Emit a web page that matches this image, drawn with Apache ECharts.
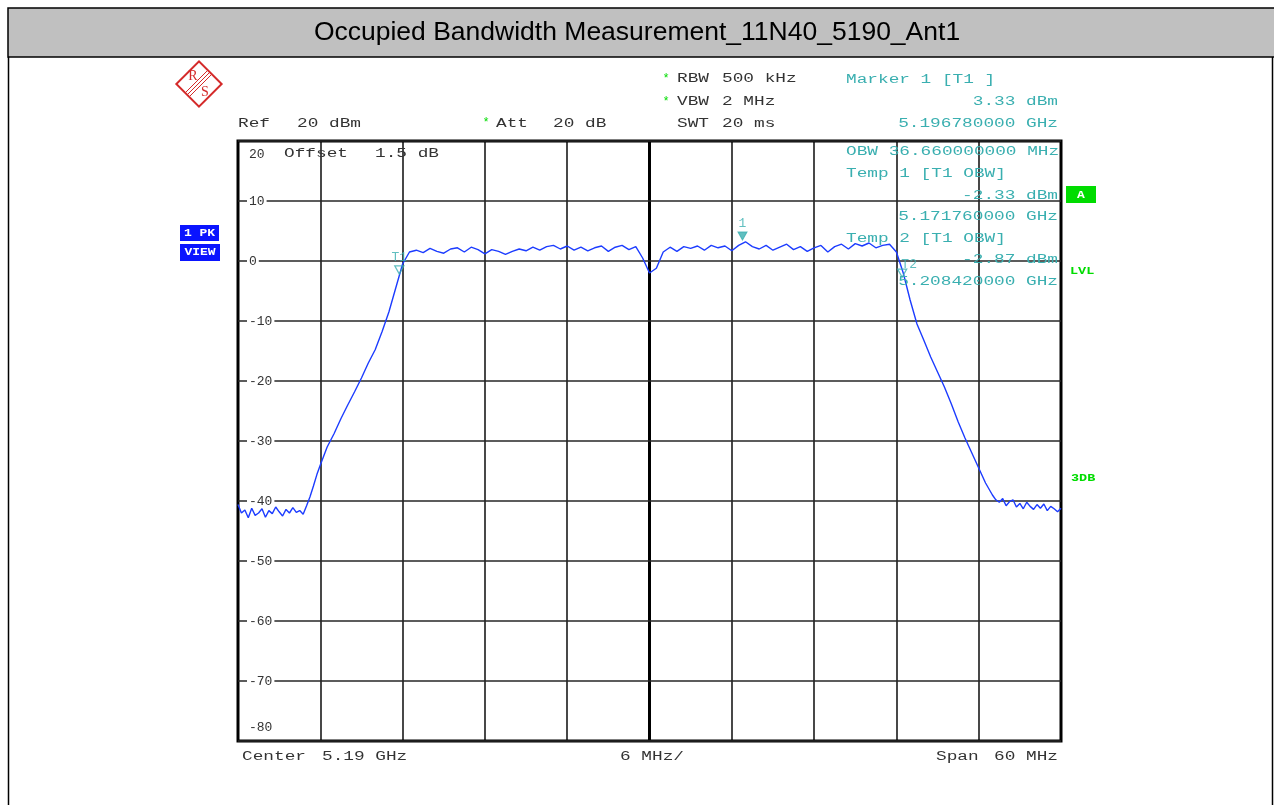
<!DOCTYPE html>
<html>
<head>
<meta charset="utf-8">
<script src="https://cdn.jsdelivr.net/npm/echarts@6/dist/echarts.min.js"></script>
<style>
html,body{margin:0;padding:0;background:#fff;}
#chart{width:1274px;height:805px;}
</style>
</head>
<body>
<div id="chart"></div>
<script>
// ---- data ----
const titleText = 'Occupied Bandwidth Measurement_11N40_5190_Ant1';
const freqMHz = [
  5160.0,5160.25,5160.5,5160.75,5161.0,5161.25,5161.5,5161.75,5162.0,5162.25,
  5162.5,5162.75,5163.0,5163.25,5163.5,5163.75,5164.0,5164.25,5164.5,5164.75,
  5165.0,5165.25,5165.5,5165.75,5166.0,5166.5,5167.0,5167.5,5168.0,5168.5,
  5169.0,5169.5,5170.0,5170.5,5171.0,5171.5,5172.0,5172.5,5173.0,5173.5,
  5174.0,5174.5,5175.0,5175.5,5176.0,5176.5,5177.0,5177.5,5178.0,5178.5,
  5179.0,5179.5,5180.0,5180.5,5181.0,5181.5,5182.0,5182.5,5183.0,5183.5,
  5184.0,5184.5,5185.0,5185.5,5186.0,5186.5,5187.0,5187.5,5188.0,5188.5,
  5189.0,5189.5,5190.0,5190.5,5191.0,5191.5,5192.0,5192.5,5193.0,5193.5,
  5194.0,5194.5,5195.0,5195.5,5196.0,5196.5,5197.0,5197.5,5198.0,5198.5,
  5199.0,5199.5,5200.0,5200.5,5201.0,5201.5,5202.0,5202.5,5203.0,5203.5,
  5204.0,5204.5,5205.0,5205.5,5206.0,5206.5,5207.0,5207.5,5208.0,5208.5,
  5209.0,5209.5,5210.0,5210.5,5211.0,5211.5,5212.0,5212.5,5213.0,5213.5,
  5214.0,5214.5,5215.0,5215.25,5215.5,5215.75,5216.0,5216.25,5216.5,5216.75,
  5217.0,5217.25,5217.5,5217.75,5218.0,5218.25,5218.5,5218.75,5219.0,5219.25,
  5219.5,5219.75,5220.0
];
const levelDbm = [
  -40.6,-42.0,-41.5,-42.8,-41.2,-42.4,-42.0,-41.3,-42.7,-41.6,
  -42.1,-41.0,-41.8,-42.5,-41.4,-42.0,-41.1,-41.9,-41.6,-42.2,
  -40.8,-39.3,-37.5,-35.6,-34.0,-31.0,-28.8,-26.3,-24.0,-21.8,
  -19.5,-17.0,-14.8,-11.8,-8.5,-4.5,-0.5,1.5,1.8,1.4,
  2.1,1.6,1.3,2.0,2.2,1.5,2.3,1.9,1.2,1.9,
  1.6,1.1,1.6,2.0,1.7,2.3,1.8,2.4,2.6,2.0,
  2.5,1.8,2.3,1.7,2.2,2.5,1.6,2.3,2.6,1.9,
  2.4,0.5,-2.0,-1.2,1.5,2.3,1.6,2.4,2.1,2.5,
  1.8,2.6,2.2,2.5,1.7,2.6,3.2,2.4,2.0,2.6,
  1.8,2.3,2.8,1.9,2.4,1.6,2.2,2.6,1.5,2.4,
  2.8,2.0,2.9,2.5,3.0,2.2,2.6,2.8,1.5,-2.0,
  -6.5,-10.5,-13.2,-16.0,-18.5,-21.0,-23.8,-26.8,-29.5,-32.0,
  -34.5,-37.0,-39.0,-39.8,-40.2,-39.6,-40.8,-40.1,-39.8,-41.0,
  -40.4,-41.3,-40.2,-40.9,-41.4,-40.6,-41.2,-40.5,-41.6,-40.9,
  -41.3,-41.8,-41.2
];
const markerNames = ['T1', '1', 'T2'];
const markerFreqMHz = [5171.76, 5196.78, 5208.42];
const markerLevelDbm = [-2.33, 3.33, -2.87];
const markerFilled = [false, true, false];
const xMinMHz = 5160, xMaxMHz = 5220, xStepMHz = 6, centerMHz = 5190;
const yMin = -80, yMax = 20, yStep = 10;

// ---- styles ----
const TEAL = '#3aafb0';
const GREEN = '#00dc00';
const DARK = '#333333';
const MONO = '"Liberation Mono", "Courier New", monospace';
const SX = 1.48;

function txt(x, y, s, color, align, extra) {
  return Object.assign({
    type: 'text', x: x, y: y, scaleX: SX, z: 50,
    style: { text: s, fill: color, font: '12px ' + MONO, textAlign: align || 'left', textVerticalAlign: 'middle' }
  }, extra || {});
}
function boxTxt(x, y, s, color, align, sx) {
  return {
    type: 'text', x: x, y: y, scaleX: sx, z: 51,
    style: { text: s, fill: color, font: 'bold 10px ' + MONO, textAlign: align, textVerticalAlign: 'middle' }
  };
}

const chart = echarts.init(document.getElementById('chart'), null, { renderer: 'canvas' });

const tracePts = freqMHz.map((f, i) => [f, levelDbm[i]]);
const markerPts = markerFreqMHz.map((f, i) => ({
  value: [f, markerLevelDbm[i]],
  name: markerNames[i],
  itemStyle: markerFilled[i] ? { color: TEAL, borderColor: TEAL } : { color: 'rgba(255,255,255,0)', borderColor: TEAL, borderWidth: 1.3 },
  label: { offset: markerNames[i] === 'T2' ? [7, 3] : [0, 0] }
}));

const graphics = [
  // title bar and page frame
  { type: 'rect', z: 0, shape: { x: 8, y: 8, width: 1275, height: 49 }, style: { fill: '#c0c0c0', stroke: '#000', lineWidth: 1.5 } },
  { type: 'line', z: 0, shape: { x1: 8.5, y1: 57, x2: 8.5, y2: 805 }, style: { stroke: '#000', lineWidth: 1.5 } },
  { type: 'line', z: 0, shape: { x1: 1272.5, y1: 57, x2: 1272.5, y2: 805 }, style: { stroke: '#000', lineWidth: 1.5 } },
  // R&S logo
  { type: 'group', x: 199, y: 84, z: 50, children: [
    { type: 'rect', shape: { x: -16, y: -16, width: 32, height: 32 }, rotation: Math.PI / 4, style: { fill: 'none', stroke: '#d42a2a', lineWidth: 2 } },
    { type: 'line', shape: { x1: -13, y1: 8, x2: 8, y2: -13 }, style: { stroke: '#d42a2a', lineWidth: 1 } },
    { type: 'line', shape: { x1: -11, y1: 10, x2: 10, y2: -11 }, style: { stroke: '#d42a2a', lineWidth: 1 } },
    { type: 'line', shape: { x1: -9, y1: 12, x2: 12, y2: -9 }, style: { stroke: '#d42a2a', lineWidth: 1 } },
    { type: 'text', x: -6, y: -8, style: { text: 'R', fill: '#d42a2a', font: '14px "Liberation Serif"', textAlign: 'center', textVerticalAlign: 'middle' } },
    { type: 'text', x: 6, y: 8, style: { text: 'S', fill: '#d42a2a', font: '14px "Liberation Serif"', textAlign: 'center', textVerticalAlign: 'middle' } }
  ]},
  // header settings
  txt(666, 79, '*', GREEN, 'center', { scaleX: 1 }),
  txt(677, 79, 'RBW', DARK),
  txt(722, 79, '500 kHz', DARK),
  txt(666, 102, '*', GREEN, 'center', { scaleX: 1 }),
  txt(677, 102, 'VBW', DARK),
  txt(722, 102, '2 MHz', DARK),
  txt(677, 124, 'SWT', DARK),
  txt(722, 124, '20 ms', DARK),
  txt(238, 124, 'Ref', DARK),
  txt(297, 124, '20 dBm', DARK),
  txt(486, 123, '*', GREEN, 'center', { scaleX: 1 }),
  txt(496, 124, 'Att', DARK),
  txt(553, 124, '20 dB', DARK),
  txt(284, 154, 'Offset', DARK),
  txt(375, 154, '1.5 dB', DARK),
  // marker info
  txt(846, 80, 'Marker 1 [T1 ]', TEAL),
  txt(1058, 102, '3.33 dBm', TEAL, 'right'),
  txt(1058, 124, '5.196780000 GHz', TEAL, 'right'),
  txt(846, 152, 'OBW 36.660000000 MHz', TEAL),
  txt(846, 174, 'Temp 1 [T1 OBW]', TEAL),
  txt(1058, 195.5, '-2.33 dBm', TEAL, 'right'),
  txt(1058, 217, '5.171760000 GHz', TEAL, 'right'),
  txt(846, 238.5, 'Temp 2 [T1 OBW]', TEAL),
  txt(1058, 260, '-2.87 dBm', TEAL, 'right'),
  txt(1058, 281.5, '5.208420000 GHz', TEAL, 'right'),
  // footer
  txt(242, 757, 'Center', DARK),
  txt(322, 757, '5.19 GHz', DARK),
  txt(620, 757, '6 MHz/', DARK),
  txt(936, 757, 'Span', DARK),
  txt(994, 757, '60 MHz', DARK),
  // side boxes
  { type: 'rect', z: 50, shape: { x: 180, y: 225, width: 39, height: 16 }, style: { fill: '#0a14ff' } },
  boxTxt(199.5, 233.5, '1 PK', '#fff', 'center', 1.3),
  { type: 'rect', z: 50, shape: { x: 180, y: 244, width: 40, height: 17 }, style: { fill: '#0a14ff' } },
  boxTxt(200, 252.5, 'VIEW', '#fff', 'center', 1.3),
  { type: 'rect', z: 50, shape: { x: 1066, y: 186, width: 30, height: 17 }, style: { fill: GREEN } },
  boxTxt(1081, 195, 'A', '#fff', 'center', 1.3),
  boxTxt(1070, 271.5, 'LVL', GREEN, 'left', 1.35),
  boxTxt(1071, 478.5, '3DB', GREEN, 'left', 1.35)
];

const option = {
  animation: false,
  backgroundColor: '#ffffff',
  title: {
    text: titleText, left: 'center', top: 14,
    textStyle: { fontFamily: '"Liberation Sans", Arial, sans-serif', fontSize: 26.5, fontWeight: 'normal', color: '#000' }
  },
  grid: { left: 238, top: 141, width: 823, height: 600, show: true, borderColor: '#000', borderWidth: 3, backgroundColor: 'rgba(0,0,0,0)', z: 3 },
  xAxis: {
    type: 'value', min: xMinMHz, max: xMaxMHz, interval: xStepMHz,
    axisLine: { show: false }, axisTick: { show: false }, axisLabel: { show: false },
    splitLine: { show: true, lineStyle: { color: '#1a1a1a', width: 1.6 } }
  },
  yAxis: {
    type: 'value', min: yMin, max: yMax, interval: yStep,
    axisLine: { show: false }, axisTick: { show: false },
    splitLine: { show: true, lineStyle: { color: '#262626', width: 1.6 } },
    axisLabel: {
      inside: true, margin: 9, color: DARK, fontFamily: MONO, fontSize: 13,
      formatter: function (v) {
        if (v === yMax) return '{t|' + v + '}';
        if (v === yMin) return '{b|' + v + '}';
        return '{n|' + v + '}';
      },
      rich: {
        n: { backgroundColor: '#fff', padding: [1, 2, 0, 2], color: DARK, fontFamily: MONO, fontSize: 13 },
        t: { padding: [28, 2, 0, 2], color: DARK, fontFamily: MONO, fontSize: 13 },
        b: { padding: [0, 2, 26, 2], color: DARK, fontFamily: MONO, fontSize: 13 }
      }
    },
    z: 5
  },
  graphic: graphics,
  series: [
    {
      name: 'center', type: 'line', silent: true, symbol: 'none', z: 4,
      data: [[centerMHz, yMin], [centerMHz, yMax]],
      lineStyle: { color: '#000', width: 3 }
    },
    {
      name: 'Trace 1', type: 'line', symbol: 'none', z: 6,
      data: tracePts,
      lineStyle: { color: '#1c3cff', width: 1.4 }
    },
    {
      name: 'Markers', type: 'scatter', z: 7,
      symbol: 'triangle', symbolRotate: 180, symbolSize: [9, 8], symbolOffset: [0, -5],
      data: markerPts,
      label: {
        show: true, position: 'top', distance: 1, color: TEAL, fontFamily: MONO, fontSize: 13,
        formatter: p => p.name
      }
    }
  ]
};
chart.setOption(option);
</script>
</body>
</html>
